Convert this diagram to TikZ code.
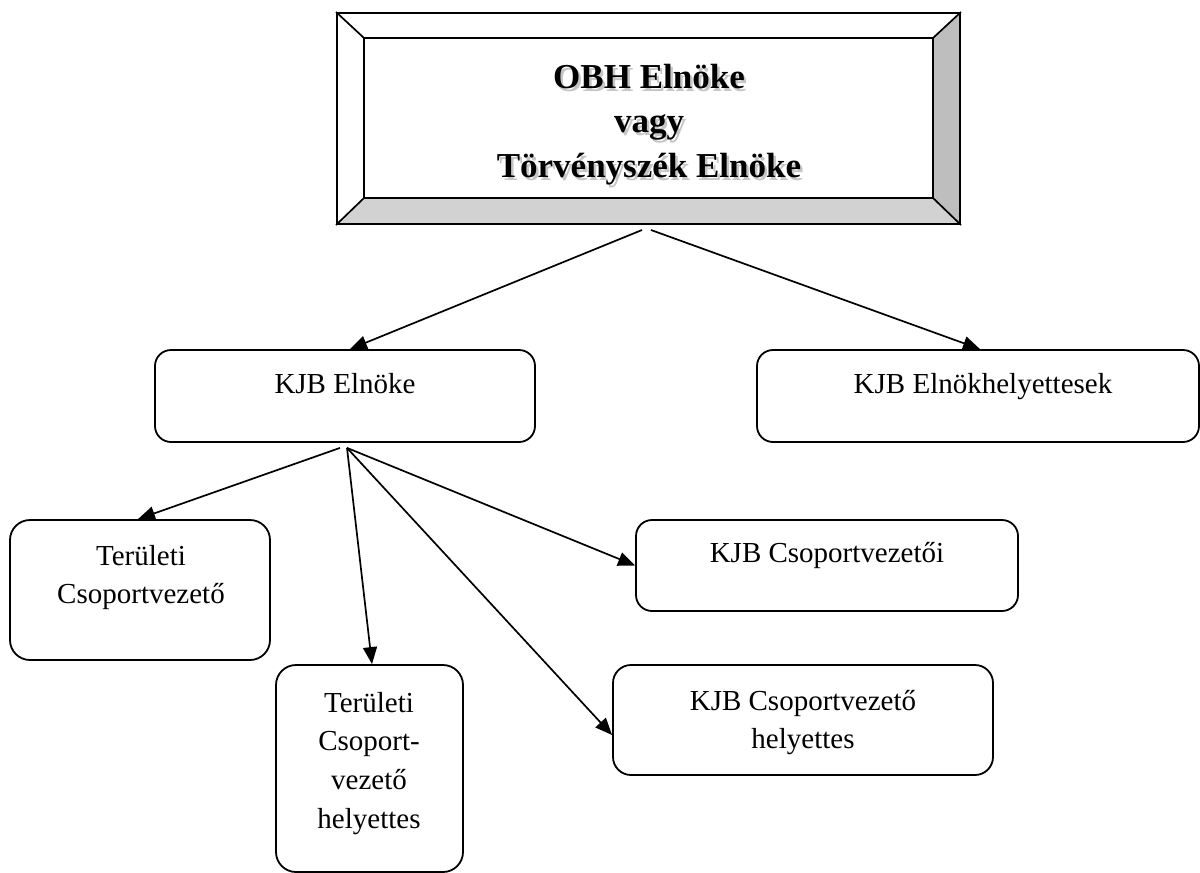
\documentclass[tikz,border=0pt]{standalone}
\usepackage{fontspec}
\setmainfont{Liberation Serif}
\usetikzlibrary{arrows.meta}
\definecolor{bevR}{RGB}{190,190,190}
\definecolor{bevB}{RGB}{210,210,210}
\newcommand\shadtxt[1]{\leavevmode\rlap{\kern2.5pt\raisebox{-3pt}{\textcolor{gray!45}{#1}}}#1}
\begin{document}
\begin{tikzpicture}[x=1pt,y=-1pt,
  box/.style={draw, line width=1.8pt, rounded corners=16pt, inner sep=0},
  lbl/.style={inner sep=0, anchor=base, font=\fontsize{29}{38.7}\selectfont},
  toplbl/.style={inner sep=0, anchor=base, font=\fontsize{35}{44.5}\selectfont\bfseries},
  conn/.style={line width=1.7pt, -{Triangle[length=17pt,width=14pt]}},
  bev/.style={line width=1.7pt}
]
\useasboundingbox (0,0) rectangle (1200,873);
\fill[white] (0,0) rectangle (1200,873);

% bevelled top box
\fill[bevR] (960,13) -- (933,38) -- (933,198) -- (960,224) -- cycle;
\fill[bevB] (337,224) -- (364,198) -- (933,198) -- (960,224) -- cycle;
\node[draw, line width=2pt, minimum width=623pt, minimum height=211pt, inner sep=0] (top) at (648.5,118.5) {};
\draw[bev] (364,38) rectangle (933,198);
\draw[bev] (top.north west) -- (364,38);
\draw[bev] (top.north east) -- (933,38);
\draw[bev] (top.south west) -- (364,198);
\draw[bev] (top.south east) -- (933,198);
\node[toplbl] (toptext) at (649,88) {\begin{tabular}[t]{@{}c@{}}\shadtxt{OBH Elnöke}\\\shadtxt{vagy}\\\shadtxt{Törvényszék Elnöke}\end{tabular}};

% boxes
\node[box, minimum width=380pt, minimum height=92pt] (kjb) at (345,396) {};
\node[box, minimum width=442pt, minimum height=92pt] (kjbh) at (978,396) {};
\node[box, rounded corners=20pt, minimum width=260pt, minimum height=140pt] (tc) at (140,590) {};
\node[box, rounded corners=20pt, minimum width=187pt, minimum height=207pt] (tch) at (369.5,768.5) {};
\node[box, minimum width=382pt, minimum height=91pt] (kcs) at (827,565.5) {};
\node[box, rounded corners=18pt, minimum width=380pt, minimum height=110pt] (kch) at (803,720) {};

% labels
\node[lbl] (kjbt) at (345,393) {KJB Elnöke};
\node[lbl] (kjbht) at (983,393) {KJB Elnökhelyettesek};
\node[lbl] (tct) at (141,565) {\begin{tabular}[t]{@{}c@{}}Területi\\Csoportvezető\end{tabular}};
\node[lbl] (tcht) at (369,712) {\begin{tabular}[t]{@{}c@{}}Területi\\Csoport-\\vezető\\helyettes\end{tabular}};
\node[lbl] (kcst) at (827,562) {KJB Csoportvezetői};
\node[lbl] (kcht) at (803,710) {\begin{tabular}[t]{@{}c@{}}KJB Csoportvezető\\helyettes\end{tabular}};

% connectors
\draw[conn] ([shift={(-6.5,5)}]top.south) -- ([xshift=5pt]kjb.north);
\draw[conn] ([shift={(2.5,5)}]top.south) -- ([xshift=2pt]kjbh.north);
\draw[conn] ([shift={(-5,5)}]kjb.south) -- ([xshift=-2pt]tc.north);
\draw[conn] ([shift={(2,5)}]kjb.south) -- ([xshift=2.5pt]tch.north);
\draw[conn] ([shift={(2,5)}]kjb.south) -- (kcs.west);
\draw[conn] ([shift={(2,5)}]kjb.south) -- ([shift={(0,15)}]kch.west);
\end{tikzpicture}
\end{document}
